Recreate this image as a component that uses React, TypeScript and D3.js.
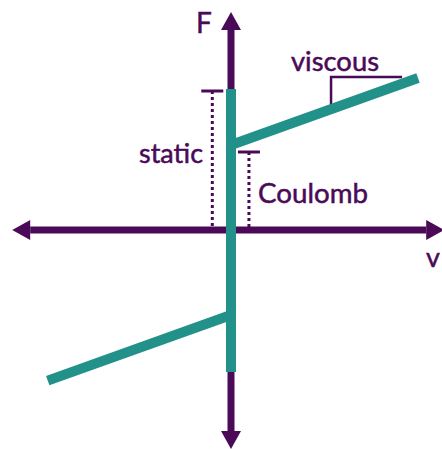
import React from "react";
import * as d3 from "d3";

const W = 442;
const H = 449;

// friction model values (v: velocity, F: force)
const coulombF = 0.85;
const staticF = 1.41;
const viscousSlope = 0.67;
const vMaxPos = 1.0;
const vMaxNeg = -0.98;
const staticBottom = -1.42;

// axis extents
const vAxis = [-1.17, 1.14];
const fAxis = [-2.19, 2.18];

// annotation positions (data units)
const staticMarkV = -0.1;
const staticMarkF = 1.39;
const coulombMarkV = 0.096;
const coulombMarkF = 0.78;
const viscTriV = [0.535, 0.915];
const viscTriF = 1.53;

const labels = { F: "F", v: "v", viscous: "viscous", stat: "static", coulomb: "Coulomb" };

const PURPLE = "#4a0a58";
const TEAL = "#21918a";
const FONT = "Lato, 'Open Sans', sans-serif";

export default function App() {
  const x = d3.scaleLinear().domain([-1, 1]).range([231 - 187, 231 + 187]);
  const y = d3.scaleLinear().domain([-1, 1]).range([330, 130]);
  const line = d3.line<[number, number]>().x((d) => x(d[0])).y((d) => y(d[1]));

  const upper: [number, number][] = [
    [0, coulombF],
    [vMaxPos, coulombF + viscousSlope * vMaxPos],
  ];
  const lower: [number, number][] = [
    [0, -coulombF],
    [vMaxNeg, -coulombF + viscousSlope * vMaxNeg],
  ];
  const vert: [number, number][] = [
    [0, staticBottom],
    [0, staticF],
  ];

  const x0 = x(0);
  const y0 = y(0);
  const ah = 18; // arrow length
  const aw = 10; // half width

  const xl = x(vAxis[0]);
  const xr = x(vAxis[1]);
  const yt = y(fAxis[1]);
  const yb = y(fAxis[0]);

  const viscAtStart = coulombF + viscousSlope * viscTriV[0];

  return (
    <svg width={W} height={H} style={{ position: "absolute", left: 0, top: 0 }}>
      <rect width={W} height={H} fill="#fff" />
      {/* axes */}
      <line x1={xl + ah} x2={xr - ah} y1={y0} y2={y0} stroke={PURPLE} strokeWidth={7} />
      <line x1={x0} x2={x0} y1={yt + ah} y2={yb - ah} stroke={PURPLE} strokeWidth={7} />
      <path d={`M${xl},${y0} L${xl + ah},${y0 - aw} L${xl + ah},${y0 + aw} Z`} fill={PURPLE} />
      <path d={`M${xr},${y0} L${xr - ah},${y0 - aw} L${xr - ah},${y0 + aw} Z`} fill={PURPLE} />
      <path d={`M${x0},${yt} L${x0 - aw},${yt + ah} L${x0 + aw},${yt + ah} Z`} fill={PURPLE} />
      <path d={`M${x0},${yb} L${x0 - aw},${yb - ah} L${x0 + aw},${yb - ah} Z`} fill={PURPLE} />

      {/* static marker */}
      <line x1={x(staticMarkV)} x2={x(staticMarkV)} y1={y(staticMarkF)} y2={y0 - 3} stroke={PURPLE} strokeWidth={3} strokeDasharray="3,3" />
      <line x1={x(staticMarkV) - 11} x2={x(staticMarkV) + 11} y1={y(staticMarkF)} y2={y(staticMarkF)} stroke={PURPLE} strokeWidth={3} />
      {/* coulomb marker */}
      <line x1={x(coulombMarkV)} x2={x(coulombMarkV)} y1={y(coulombMarkF)} y2={y0 - 3} stroke={PURPLE} strokeWidth={3} strokeDasharray="3,3" />
      <line x1={x(coulombMarkV) - 11} x2={x(coulombMarkV) + 11} y1={y(coulombMarkF)} y2={y(coulombMarkF)} stroke={PURPLE} strokeWidth={3} />
      {/* viscous triangle */}
      <path
        d={`M${x(viscTriV[0])},${y(viscAtStart)} L${x(viscTriV[0])},${y(viscTriF)} L${x(viscTriV[1])},${y(viscTriF)}`}
        fill="none"
        stroke={PURPLE}
        strokeWidth={2.5}
      />

      {/* friction curve */}
      <path d={line(vert) || ""} stroke={TEAL} strokeWidth={10} fill="none" />
      <path d={line(upper) || ""} stroke={TEAL} strokeWidth={10} fill="none" />
      <path d={line(lower) || ""} stroke={TEAL} strokeWidth={10} fill="none" />

      {/* labels */}
      <g fill={PURPLE} stroke={PURPLE} strokeWidth={0.5} fontFamily={FONT}>
        <text x={196} y={33} fontSize={28}>{labels.F}</text>
        <text x={426} y={267} fontSize={27}>{labels.v}</text>
        <text x={291} y={71} fontSize={26} textLength={88} lengthAdjust="spacingAndGlyphs">{labels.viscous}</text>
        <text x={139} y={163} fontSize={26} textLength={64} lengthAdjust="spacingAndGlyphs">{labels.stat}</text>
        <text x={258} y={203} fontSize={27} textLength={110} lengthAdjust="spacingAndGlyphs">{labels.coulomb}</text>
      </g>
    </svg>
  );
}
